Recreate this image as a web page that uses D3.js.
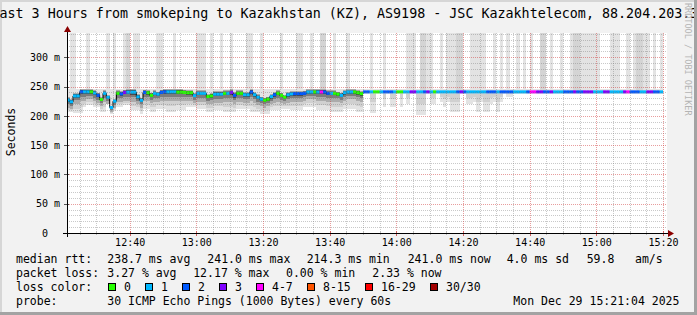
<!DOCTYPE html>
<html>
<head>
<meta charset="utf-8">
<script src="https://cdn.jsdelivr.net/npm/d3@7"></script>
<style>
html, body { margin: 0; padding: 0; background: #f2f2f2; }
svg { display: block; font-family: "DejaVu Sans Mono", monospace; }
</style>
</head>
<body>
<div id="content"></div>
<script>
// Median rtt per 60s step (ms), first step starts 12:21.
var median = [
  227, 224, 234, 234, 241, 241, 241, 241, 239, 235,
  228, 238.5, 231.7, 214.3, 225, 238.5, 237.5, 240, 240.5, 240.5,
  240.5, 232.5, 226.6, 240, 239.5, 235, 238.5, 237, 240, 241,
  241, 241, 241, 240.5, 240.5, 240, 239.5, 239.5, 234.5, 238.5,
  238.5, 238.5, 233, 234, 237, 237, 237, 238.5, 238.5, 240,
  235, 238.5, 238.5, 236, 236, 240.7, 236, 231.7, 228.5, 226.6,
  228.5, 232.8, 236, 238.5, 235, 231.7, 236, 237.5, 238, 238,
  238, 238.5, 240.7, 240.7, 240.7, 240.7, 240.7, 240.7, 238.5, 238.5,
  238.5, 237, 235, 239.5, 240.7, 240.7, 240.7, 239.5, 238, 241,
  241, 241, 241, 241, 241, 241, 241, 241, 241, 241,
  241, 241, 241, 241, 241, 241, 241, 241, 241, 241,
  241, 241, 241, 241, 241, 241, 241, 241, 241, 241,
  241, 241, 241, 241, 241, 241, 241, 241, 241, 241,
  241, 241, 241, 241, 241, 241, 241, 241, 241, 241,
  241, 241, 241, 241, 241, 241, 241, 241, 241, 241,
  241, 241, 241, 241, 241, 241, 241, 241, 241, 241,
  241, 241, 241, 241, 241, 241, 241, 241, 241, 241,
  241, 241, 241, 241, 241, 241, 241, 241, 241
];

// Lost pings (of 30) per step.
var loss = [
  1, 1, 1, 1, 2, 1, 1, 0, 1, 2,
  0, 1, 1, 1, 1, 0, 2, 3, 1, 1,
  1, 1, 1, 2, 0, 0, 1, 1, 2, 2,
  1, 1, 1, 0, 0, 0, 0, 0, 1, 1,
  1, 1, 0, 0, 1, 1, 1, 0, 1, 3,
  2, 0, 0, 1, 1, 2, 1, 1, 1, 0,
  0, 1, 2, 0, 0, 0, 1, 1, 2, 2,
  2, 2, 1, 1, 0, 1, 5, 2, 2, 1,
  0, 0, 1, 1, 1, 1, 0, 0, 0, 2,
  2, 1, 0, 0, 1, 2, 2, 2, 1, 0,
  0, 1, 1, 3, 3, 1, 1, 2, 3, 1,
  0, 1, 1, 1, 1, 1, 1, 2, 3, 2,
  1, 1, 1, 1, 1, 1, 2, 2, 2, 1,
  2, 2, 2, 2, 1, 1, 1, 1, 2, 5,
  5, 3, 3, 2, 2, 3, 1, 1, 1, 2,
  2, 2, 3, 2, 2, 3, 3, 3, 1, 1,
  1, 3, 3, 1, 1, 1, 1, 3, 5, 2,
  2, 2, 1, 1, 3, 3, 2, 2, 1
];

// Smoke: lowest ping, lower quartile, highest ping, second highest ping (0 = none) in ms.
var lo = [
  207, 207, 205, 205, 205, 215, 218, 218, 215, 215,
  207, 207, 220, 204, 209, 215, 215, 218, 218, 210,
  210, 210, 204, 212, 212, 207, 207, 212, 212, 212,
  207, 207, 207, 210, 210, 210, 215, 215, 215, 212,
  212, 212, 207, 207, 210, 210, 210, 207, 207, 207,
  207, 212, 212, 212, 212, 207, 207, 207, 204, 204,
  204, 210, 210, 210, 212, 212, 212, 210, 210, 210,
  210, 215, 215, 215, 215, 210, 210, 210, 210, 207,
  207, 207, 207, 212, 212, 212, 212, 207, 207, 238,
  238, 205, 205, 238, 238, 215, 238, 215, 215, 238,
  215, 238, 221, 238, 238, 201, 201, 201, 238, 220,
  220, 238, 224, 215, 224, 207, 207, 207, 238, 238,
  220, 220, 224, 207, 224, 207, 207, 220, 224, 207,
  224, 238, 233, 233, 238, 238, 238, 238, 238, 238,
  238, 238, 238, 238, 238, 238, 238, 238, 238, 238,
  238, 238, 238, 238, 238, 238, 238, 238, 238, 238,
  238, 238, 238, 238, 238, 238, 238, 238, 238, 238,
  238, 238, 238, 238, 238, 238, 238, 238, 238
];

var q1 = [
  214, 212, 220, 220, 226, 226, 228, 228, 225, 222,
  216, 224, 220, 207, 214, 224, 224, 226, 226, 224,
  224, 220, 214, 226, 226, 222, 224, 224, 226, 226,
  226, 226, 226, 226, 226, 226, 226, 226, 222, 224,
  224, 224, 220, 220, 222, 222, 222, 224, 224, 224,
  220, 224, 224, 222, 222, 226, 222, 218, 216, 214,
  216, 220, 222, 224, 222, 220, 222, 224, 224, 224,
  224, 226, 228, 228, 228, 226, 226, 226, 224, 224,
  224, 224, 222, 226, 228, 228, 228, 226, 224, 241,
  241, 241, 241, 241, 241, 241, 241, 241, 241, 241,
  241, 241, 241, 241, 241, 241, 241, 241, 241, 241,
  241, 241, 241, 241, 241, 241, 241, 241, 241, 241,
  241, 241, 241, 241, 241, 241, 241, 241, 241, 241,
  241, 241, 241, 241, 241, 241, 241, 241, 241, 241,
  241, 241, 241, 241, 241, 241, 241, 241, 241, 241,
  241, 241, 241, 241, 241, 241, 241, 241, 241, 241,
  241, 241, 241, 241, 241, 241, 241, 241, 241, 241,
  241, 241, 241, 241, 241, 241, 241, 241, 241
];

var hi = [
  246, 360, 360, 246, 246, 246, 360, 246, 246, 246,
  246, 246, 360, 246, 360, 246, 246, 360, 360, 246,
  360, 360, 246, 246, 246, 246, 246, 360, 360, 246,
  246, 246, 360, 246, 246, 246, 246, 246, 246, 360,
  360, 360, 246, 360, 246, 246, 360, 246, 246, 360,
  246, 246, 246, 246, 360, 360, 246, 246, 360, 246,
  246, 246, 246, 246, 360, 246, 246, 246, 246, 360,
  360, 246, 246, 360, 246, 246, 360, 360, 246, 246,
  360, 246, 246, 246, 360, 246, 246, 246, 246, 246,
  246, 360, 246, 246, 246, 360, 246, 246, 246, 246,
  246, 246, 360, 360, 360, 246, 360, 360, 360, 360,
  246, 246, 360, 246, 360, 360, 360, 360, 360, 246,
  246, 360, 360, 360, 360, 360, 246, 246, 360, 246,
  360, 246, 360, 246, 246, 360, 246, 360, 246, 360,
  246, 246, 360, 360, 246, 360, 246, 246, 360, 246,
  246, 360, 360, 360, 360, 360, 360, 360, 360, 360,
  246, 246, 246, 360, 360, 360, 246, 246, 360, 246,
  360, 360, 360, 360, 360, 246, 360, 246, 360
];

var hi2 = [
  0, 0, 0, 0, 0, 0, 0, 0, 0, 0,
  0, 0, 0, 0, 0, 0, 0, 0, 360, 0,
  0, 0, 0, 0, 0, 0, 0, 0, 0, 0,
  0, 0, 0, 0, 0, 0, 0, 0, 0, 0,
  0, 0, 0, 0, 0, 0, 0, 0, 0, 0,
  0, 0, 0, 0, 0, 0, 0, 0, 0, 0,
  0, 0, 0, 0, 0, 0, 0, 0, 0, 0,
  0, 0, 0, 0, 0, 0, 360, 360, 0, 0,
  0, 0, 0, 0, 0, 0, 0, 0, 0, 0,
  0, 0, 0, 0, 0, 0, 0, 0, 0, 0,
  0, 0, 0, 0, 0, 0, 360, 360, 0, 0,
  0, 0, 0, 0, 0, 0, 0, 360, 360, 0,
  0, 0, 0, 0, 0, 0, 0, 0, 0, 0,
  0, 0, 0, 0, 0, 0, 0, 0, 0, 0,
  0, 0, 360, 360, 0, 0, 0, 0, 0, 0,
  0, 0, 360, 360, 0, 0, 0, 0, 0, 0,
  0, 0, 0, 0, 0, 0, 0, 0, 0, 0,
  0, 360, 360, 0, 0, 0, 0, 0, 0
];

// Axis ticks and legend.
var yTicks = [0, 50, 100, 150, 200, 250, 300];
var lossLabels = ['0', '1', '2', '3', '4-7', '8-15', '16-29', '30/30'];
var lossColors = ['#26ff00', '#00b8ff', '#0059ff', '#7e00ff', '#ff00ff', '#ff5500', '#ff0000', '#a10000'];
var rttStats = ['238.7 ms avg', '241.0 ms max', '214.3 ms min', '241.0 ms now', '4.0 ms sd', '59.8', 'am/s'];
var lossStats = ['3.27 % avg', '12.17 % max', '0.00 % min', '2.33 % now'];
var title = 'Last 3 Hours from smokeping to Kazakhstan (KZ), AS9198 - JSC Kazakhtelecom, 88.204.203.3';
var probeText = '30 ICMP Echo Pings (1000 Bytes) every 60s';
var stampText = 'Mon Dec 29 15:21:04 2025';

var W = 697, H = 315;
var plot = {left : 67, top : 33, width : 600, height : 200};

var svg = d3.select('#content').append('svg').attr('width', W).attr('height', H);

// Background and 3D frame.
svg.append('rect').attr('width', W).attr('height', H).attr('fill', '#f2f2f2');
svg.append('rect').attr('x', 0).attr('y', 0).attr('width', W).attr('height', 2).attr('fill', '#d6d6d6');
svg.append('rect').attr('x', 0).attr('y', 0).attr('width', 2).attr('height', H).attr('fill', '#d6d6d6');

svg.append('rect').attr('x', plot.left).attr('y', plot.top)
    .attr('width', plot.width).attr('height', plot.height).attr('fill', '#ffffff');

// Scales.
var t0 = new Date(2025, 11, 29, 12, 21, 12);
var t1 = new Date(2025, 11, 29, 15, 21, 12);
var x = d3.scaleTime().domain([t0, t1]).range([plot.left, plot.left + plot.width]);
var y = d3.scaleLinear().domain([0, 341.5]).range([plot.top + plot.height, plot.top]);

var firstStep = new Date(2025, 11, 29, 12, 21, 0);
var steps = median.map(function(m, i) {
  var s = d3.timeMinute.offset(firstStep, i);
  return {
    start : s, end : d3.timeMinute.offset(s, 1),
    med : m, loss : loss[i], lo : lo[i], q1 : q1[i], hi : hi[i], hi2 : hi2[i]
  };
});

svg.append('clipPath').attr('id', 'clip').append('rect')
    .attr('x', plot.left).attr('y', plot.top)
    .attr('width', plot.width).attr('height', plot.height);

var g = svg.append('g').attr('clip-path', 'url(#clip)');

function band(sel, lowFn, highFn, color) {
  sel.append('g').selectAll('rect').data(steps).join('rect')
      .attr('x', function(d) { return x(d.start); })
      .attr('width', function(d) { return x(d.end) - x(d.start) + 0.05; })
      .attr('y', function(d) { return y(highFn(d)); })
      .attr('height', function(d) { return Math.max(0, y(lowFn(d)) - y(highFn(d))); })
      .attr('fill', color)
      .attr('shape-rendering', 'crispEdges');
}

// Smoke, outer (light) to inner (dark).
band(g, function(d) { return d.lo; }, function(d) { return d.hi; }, '#e3e3e3');
band(g, function(d) { return d.hi2 ? d.med : 0; }, function(d) { return d.hi2; }, '#d4d4d4');
band(g, function(d) { return (d.lo + d.q1) / 2; }, function(d) { return d.lo < d.q1 ? d.med : 0; }, '#d0d0d0');
band(g, function(d) { return d.q1; }, function(d) { return d.med + (d.med - d.q1) * 0.35; }, '#ababab');
band(g, function(d) { return d.med - (d.med - d.q1) * 0.55; }, function(d) { return d.med + (d.med - d.q1) * 0.25; }, '#7c7c7c');
band(g, function(d) { return d.med - (d.med - d.q1) * 0.25; }, function(d) { return d.med + (d.med - d.q1) * 0.2; }, '#4a4a4a');

// Median step line (black joins) and loss-coloured segments.
var last = steps[steps.length - 1];
g.append('path')
    .datum(steps.concat([{start : last.end, med : last.med}]))
    .attr('fill', 'none')
    .attr('stroke', '#000')
    .attr('stroke-width', 1)
    .attr('d', d3.line().curve(d3.curveStepAfter)
                   .x(function(d) { return x(d.start); })
                   .y(function(d) { return y(d.med); }));

function lossIndex(n) {
  if (n <= 3) return n;
  if (n <= 7) return 4;
  if (n <= 15) return 5;
  if (n <= 29) return 6;
  return 7;
}

g.append('g').selectAll('rect').data(steps).join('rect')
    .attr('x', function(d) { return x(d.start); })
    .attr('width', function(d) { return x(d.end) - x(d.start) + 0.05; })
    .attr('y', function(d) { return y(d.med) - 1.5; })
    .attr('height', 3)
    .attr('fill', function(d) { return lossColors[lossIndex(d.loss)]; });

// Grid on top of the graph.
var grid = svg.append('g');
var minorY = d3.range(10, 341, 10).filter(function(v) { return v % 50 !== 0; });
var majorY = yTicks.filter(function(v) { return v > 0; });
var minorX = d3.timeMinute.every(5).range(t0, t1).filter(function(t) { return t.getMinutes() % 20 !== 0; });
var majorX = d3.timeMinute.every(20).range(t0, t1);

grid.selectAll('line.hmin').data(minorY).join('line')
    .attr('x1', plot.left).attr('x2', plot.left + plot.width)
    .attr('y1', function(d) { return Math.round(y(d)) + 0.5; })
    .attr('y2', function(d) { return Math.round(y(d)) + 0.5; })
    .attr('stroke', 'rgba(120,120,120,0.4)').attr('stroke-dasharray', '1,1');
grid.selectAll('line.vmin').data(minorX).join('line')
    .attr('y1', plot.top).attr('y2', plot.top + plot.height)
    .attr('x1', function(d) { return Math.round(x(d)) + 0.5; })
    .attr('x2', function(d) { return Math.round(x(d)) + 0.5; })
    .attr('stroke', 'rgba(120,120,120,0.4)').attr('stroke-dasharray', '1,1');
grid.selectAll('line.hmaj').data(majorY).join('line')
    .attr('x1', plot.left).attr('x2', plot.left + plot.width)
    .attr('y1', function(d) { return Math.round(y(d)) + 0.5; })
    .attr('y2', function(d) { return Math.round(y(d)) + 0.5; })
    .attr('stroke', 'rgba(210,60,60,0.5)').attr('stroke-dasharray', '1,1');
grid.selectAll('line.vmaj').data(majorX).join('line')
    .attr('y1', plot.top).attr('y2', plot.top + plot.height)
    .attr('x1', function(d) { return Math.round(x(d)) + 0.5; })
    .attr('x2', function(d) { return Math.round(x(d)) + 0.5; })
    .attr('stroke', 'rgba(210,60,60,0.5)').attr('stroke-dasharray', '1,1');

// Axes: labels via d3 axes, lines and arrows drawn by hand.
var xAxis = svg.append('g')
    .attr('transform', 'translate(0,' + (plot.top + plot.height) + ')')
    .call(d3.axisBottom(x).tickValues(majorX).tickSize(0).tickPadding(6)
              .tickFormat(d3.timeFormat('%H:%M')));
xAxis.select('.domain').remove();
xAxis.selectAll('text').attr('font-family', '"DejaVu Sans Mono", monospace')
    .attr('font-size', '10px').attr('fill', '#000');

var yAxis = svg.append('g')
    .attr('transform', 'translate(' + plot.left + ',0)')
    .call(d3.axisLeft(y).tickValues(yTicks).tickSize(0).tickPadding(7)
              .tickFormat(function(v) { return v === 0 ? '0\u00a0\u00a0' : v + ' m'; }));
yAxis.select('.domain').remove();
yAxis.selectAll('text').attr('font-family', '"DejaVu Sans Mono", monospace')
    .attr('font-size', '10px').attr('fill', '#000');

// tick marks
svg.append('g').selectAll('line').data(majorY).join('line')
    .attr('x1', plot.left - 3).attr('x2', plot.left + 2)
    .attr('y1', function(d) { return Math.round(y(d)) + 0.5; })
    .attr('y2', function(d) { return Math.round(y(d)) + 0.5; })
    .attr('stroke', '#555');
svg.append('g').selectAll('line').data(majorX).join('line')
    .attr('y1', plot.top + plot.height - 2).attr('y2', plot.top + plot.height + 3)
    .attr('x1', function(d) { return Math.round(x(d)) + 0.5; })
    .attr('x2', function(d) { return Math.round(x(d)) + 0.5; })
    .attr('stroke', '#d06060');
svg.append('g').selectAll('line').data(minorX).join('line')
    .attr('y1', plot.top + plot.height - 2).attr('y2', plot.top + plot.height + 2)
    .attr('x1', function(d) { return Math.round(x(d)) + 0.5; })
    .attr('x2', function(d) { return Math.round(x(d)) + 0.5; })
    .attr('stroke', '#bbb');

var axisY = plot.top + plot.height + 0.5;
svg.append('line').attr('x1', plot.left - 4).attr('x2', plot.left + plot.width + 3)
    .attr('y1', axisY).attr('y2', axisY).attr('stroke', '#000');
svg.append('line').attr('x1', plot.left + 0.5).attr('x2', plot.left + 0.5)
    .attr('y1', plot.top + plot.height + 4).attr('y2', plot.top - 3).attr('stroke', '#000');
svg.append('path').attr('fill', '#8b0000')
    .attr('d', 'M' + (plot.left + plot.width + 1) + ',' + (axisY - 3.5) + 'L' +
               (plot.left + plot.width + 7) + ',' + axisY + 'L' +
               (plot.left + plot.width + 1) + ',' + (axisY + 3.5) + 'Z');
svg.append('path').attr('fill', '#8b0000')
    .attr('d', 'M' + (plot.left - 3) + ',' + (plot.top - 1) + 'L' +
               (plot.left + 0.5) + ',' + (plot.top - 7) + 'L' +
               (plot.left + 4) + ',' + (plot.top - 1) + 'Z');

// Titles (the title is wider than the image, as in the original).
svg.append('text').attr('x', -8.6).attr('y', 18)
    .attr('font-size', '13.35px').attr('fill', '#000').text(title);
svg.append('text').attr('transform', 'translate(14.5,132) rotate(-90)')
    .attr('text-anchor', 'middle').attr('font-size', '11.5px').attr('fill', '#000').text('Seconds');
svg.append('text').attr('transform', 'translate(685,3) rotate(90)')
    .attr('font-size', '8.5px').attr('fill', '#b4b4b4').text('RRDTOOL / TOBI OETIKER');

// bottom / right frame drawn last
svg.append('rect').attr('x', 0).attr('y', H - 3).attr('width', W).attr('height', 3).attr('fill', '#a3a3a3');
svg.append('rect').attr('x', W - 3).attr('y', 0).attr('width', 3).attr('height', H).attr('fill', '#a3a3a3');

// Legend.
var leg = svg.append('g').attr('font-size', '11.5px').attr('fill', '#000');
function put(px, py, s) {
  leg.append('text').attr('x', px).attr('y', py).attr('xml:space', 'preserve').text(s);
}
var rows = [263.3, 277.3, 291.3, 305.3];
put(16, rows[0], 'median rtt:');
[107.3, 207.3, 306.7, 407.7, 506.7, 586.7, 635].forEach(function(px, i) { put(px, rows[0], rttStats[i]); });
put(16, rows[1], 'packet loss:');
[107.3, 193.2, 286, 372.3].forEach(function(px, i) { put(px, rows[1], lossStats[i]); });
put(16, rows[2], 'loss color:');
var swatchX = [108.5, 145.5, 182.5, 219.5, 256.5, 307.5, 365.5, 430.5];
swatchX.forEach(function(px, i) {
  leg.append('rect').attr('x', px).attr('y', 283.5).attr('width', 7).attr('height', 7)
      .attr('fill', lossColors[i]).attr('stroke', '#000');
  put(px + 15.5, rows[2], lossLabels[i]);
});
put(16, rows[3], 'probe:');
put(107.3, rows[3], probeText);
put(513.3, rows[3], stampText);
</script>
</body>
</html>
